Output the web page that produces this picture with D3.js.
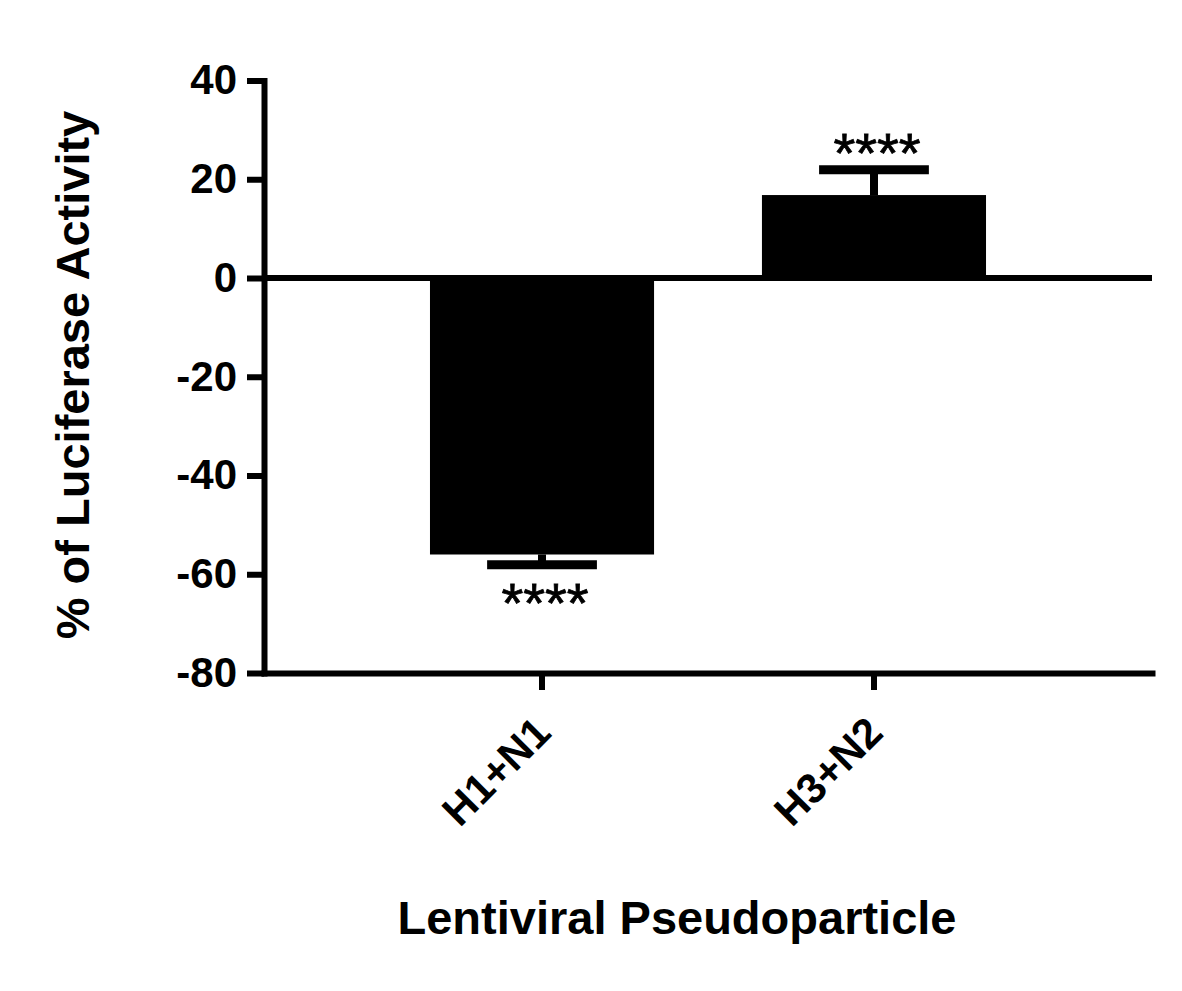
<!DOCTYPE html>
<html>
<head>
<meta charset="utf-8">
<script src="https://cdn.jsdelivr.net/npm/d3@7"></script>
<style>
  body { margin: 0; background: #fff; }
  text { font-family: "Liberation Sans", Arial, sans-serif; fill: #000; }
</style>
</head>
<body>
<div class="canvas"></div>
<script>
// values
const groups = ['H1+N1', 'H3+N2'];
const means = [-56.0, 16.8];
const errors = [2.1, 5.1];
const stars = ['****', '****'];
const yTicks = [-80, -60, -40, -20, 0, 20, 40];

const width = 1182;
const height = 991;
const plotLeft = 264, plotRight = 1152, plotTop = 80.5, plotBottom = 673;

const svg = d3.select('.canvas')
  .append('svg')
   .attr('width', width)
   .attr('height', height);

const y = d3.scaleLinear()
  .domain([-80, 40])
  .range([plotBottom, plotTop]);

const x = d3.scaleBand()
  .domain(groups)
  .range([plotLeft, plotRight])
  .paddingInner(0.325)
  .paddingOuter(0.5);

const data = groups.map((g, i) => ({ name: g, mean: means[i], err: errors[i], star: stars[i] }));

// bars
svg.selectAll('rect.bar')
  .data(data)
  .enter()
  .append('rect')
   .attr('class', 'bar')
   .attr('x', d => x(d.name))
   .attr('width', x.bandwidth())
   .attr('y', d => y(Math.max(0, d.mean)))
   .attr('height', d => Math.abs(y(d.mean) - y(0)))
   .attr('fill', '#000');

// error bars (outward only)
const errEnd = d => d.mean < 0 ? d.mean - d.err : d.mean + d.err;
const cx = d => x(d.name) + x.bandwidth() / 2;
const capW = x.bandwidth() * 0.49;

svg.selectAll('line.stem')
  .data(data)
  .enter()
  .append('line')
   .attr('class', 'stem')
   .attr('x1', cx).attr('x2', cx)
   .attr('y1', d => y(d.mean))
   .attr('y2', d => y(errEnd(d)))
   .attr('stroke', '#000')
   .attr('stroke-width', 8);

svg.selectAll('line.cap')
  .data(data)
  .enter()
  .append('line')
   .attr('class', 'cap')
   .attr('x1', d => cx(d) - capW / 2)
   .attr('x2', d => cx(d) + capW / 2)
   .attr('y1', d => y(errEnd(d)))
   .attr('y2', d => y(errEnd(d)))
   .attr('stroke', '#000')
   .attr('stroke-width', 9);

// significance stars
svg.selectAll('text.star')
  .data(data)
  .enter()
  .append('text')
   .attr('class', 'star')
   .attr('x', d => cx(d) + 3)
   .attr('y', d => d.mean < 0 ? y(errEnd(d)) + 57 : y(errEnd(d)) + 2)
   .attr('text-anchor', 'middle')
   .style('font-size', '56px')
   .style('stroke', '#000')
   .style('stroke-width', 0.8)
   .text(d => d.star);

// zero line
svg.append('line')
  .attr('x1', plotLeft).attr('x2', plotRight)
  .attr('y1', y(0)).attr('y2', y(0))
  .attr('stroke', '#000')
  .attr('stroke-width', 6);

// axes
const yAxisGroup = svg.append('g')
  .attr('transform', `translate(${plotLeft}, 0)`);
const xAxisGroup = svg.append('g')
  .attr('transform', `translate(0, ${plotBottom})`);

const yAxis = d3.axisLeft(y)
  .tickValues(yTicks)
  .tickFormat(d => String(d))
  .tickSize(17)
  .tickSizeOuter(0)
  .tickPadding(10);
const xAxis = d3.axisBottom(x)
  .tickSize(17)
  .tickSizeOuter(0);

yAxisGroup.call(yAxis);
xAxisGroup.call(xAxis);

[yAxisGroup, xAxisGroup].forEach(g => {
  g.select('.domain').attr('stroke-width', 6).attr('stroke-linecap', 'square');
  g.selectAll('.tick line').attr('stroke-width', 6);
});

yAxisGroup.selectAll('text')
  .style('font-size', '42px')
  .style('font-weight', 'bold');

xAxisGroup.selectAll('text')
  .attr('y', 0)
  .attr('dy', 0)
  .attr('text-anchor', 'end')
  .attr('transform', 'translate(11, 62) rotate(-45)')
  .style('font-size', '42px')
  .style('font-weight', 'bold');

// axis titles
svg.append('text')
  .attr('transform', 'translate(89, 375) rotate(-90)')
  .attr('text-anchor', 'middle')
  .style('font-size', '47px')
  .style('font-weight', 'bold')
  .text('% of Luciferase Activity');

svg.append('text')
  .attr('x', 677)
  .attr('y', 934)
  .attr('text-anchor', 'middle')
  .style('font-size', '47px')
  .style('font-weight', 'bold')
  .text('Lentiviral Pseudoparticle');
</script>
</body>
</html>
